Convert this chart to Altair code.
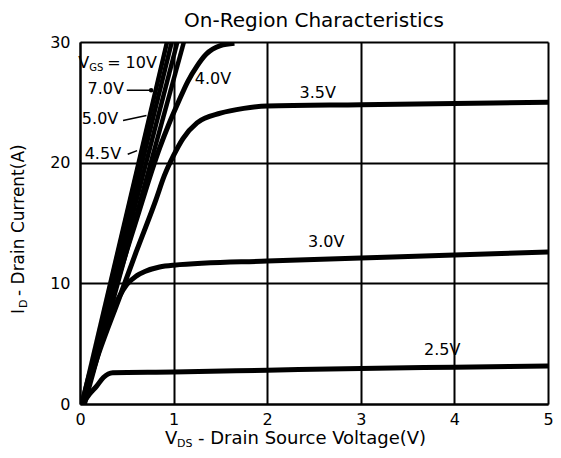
import altair as alt
import pandas as pd

FONT = "DejaVu Sans"

chart_title = "On-Region Characteristics"
x_ticks = [0, 1, 2, 3, 4, 5]
y_ticks = [0, 10, 20, 30]

# steep (linear region) curves
v10_x = [0.02, 0.93]
v10_y = [0, 30]
v70_x = [0.03, 0.98]
v70_y = [0, 30]
v50_x = [0.04, 1.04]
v50_y = [0, 30]
v45_x = [0.05, 1.11]
v45_y = [0, 30]

# saturating curves
v40_x = [0.04, 0.3, 0.6, 0.85, 0.95, 1.05, 1.15, 1.25, 1.35, 1.5, 1.65]
v40_y = [0, 7.6, 15.2, 21.2, 23.2, 25.0, 26.7, 28.0, 29.0, 29.7, 29.9]
v35_x = [0.03, 0.2, 0.42, 0.6, 0.81, 0.9, 1.0, 1.1, 1.25, 1.5, 1.75, 2.0, 3.0, 4.0, 5.0]
v35_y = [0, 4.2, 8.8, 12.6, 16.9, 18.9, 20.6, 22.0, 23.3, 24.1, 24.5, 24.7, 24.8, 24.9, 25.0]
v30_x = [0.02, 0.1, 0.25, 0.42, 0.5, 0.6, 0.7, 0.85, 1.0, 2.0, 3.0, 4.0, 5.0]
v30_y = [0, 2.4, 5.6, 8.9, 9.9, 10.6, 11.0, 11.35, 11.5, 11.85, 12.1, 12.35, 12.6]
v25_x = [0.03, 0.1, 0.18, 0.25, 0.35, 1.0, 2.0, 3.0, 4.0, 5.0]
v25_y = [0, 0.8, 1.5, 2.2, 2.6, 2.65, 2.8, 2.95, 3.05, 3.15]

# curve labels
right_labels = ["4.0V", "3.5V", "3.0V", "2.5V"]
right_label_x = [1.42, 2.54, 2.63, 3.87]
right_label_y = [26.9, 25.8, 13.4, 4.46]
left_labels = ["7.0V", "5.0V", "4.5V"]
left_label_x = [0.08, 0.02, 0.05]
left_label_y = [26.1, 23.6, 20.7]
leader_x1 = [0.5, 0.46, 0.51]
leader_y1 = [26.0, 23.5, 20.7]
leader_x2 = [0.76, 0.71, 0.61]
leader_y2 = [26.0, 23.9, 21.0]


def frame(name, xs, ys):
    return pd.DataFrame({"series": name, "v": xs, "i": ys, "k": range(len(xs))})


steep = pd.concat([
    frame("10V", v10_x, v10_y), frame("7.0V", v70_x, v70_y),
    frame("5.0V", v50_x, v50_y), frame("4.5V", v45_x, v45_y),
])
sat = pd.concat([
    frame("4.0V", v40_x, v40_y), frame("3.5V", v35_x, v35_y),
    frame("3.0V", v30_x, v30_y), frame("2.5V", v25_x, v25_y),
])

xs = alt.Scale(domain=[0, 5], nice=False)
ys = alt.Scale(domain=[0, 30], nice=False)

x_axis = alt.Axis(values=x_ticks, grid=True, gridColor="black", gridWidth=2, gridOpacity=1,
                  domainColor="black", domainWidth=2, ticks=False, labelFont=FONT,
                  labelFontSize=16, labelColor="black", labelPadding=7, labelFlush=False,
                  format="d")
y_axis = alt.Axis(values=y_ticks, grid=True, gridColor="black", gridWidth=2, gridOpacity=1,
                  domainColor="black", domainWidth=2, ticks=False, labelFont=FONT,
                  labelFontSize=16, labelColor="black", labelPadding=10, format="d")

base_x = alt.X("v:Q", scale=xs, axis=x_axis, title=None)
base_y = alt.Y("i:Q", scale=ys, axis=y_axis, title=None)

steep_lines = alt.Chart(steep).mark_line(color="black", strokeWidth=4.5, clip=True).encode(
    x=base_x, y=base_y, detail="series:N", order="k:Q")
sat_lines = alt.Chart(sat).mark_line(color="black", strokeWidth=5, clip=True,
                                     interpolate="monotone").encode(
    x=alt.X("v:Q", scale=xs), y=alt.Y("i:Q", scale=ys), detail="series:N", order="k:Q")

rl = pd.DataFrame({"t": right_labels, "v": right_label_x, "i": right_label_y})
right_text = alt.Chart(rl).mark_text(font=FONT, fontSize=16, color="black", align="center",
                                     baseline="middle").encode(
    x=alt.X("v:Q", scale=xs), y=alt.Y("i:Q", scale=ys), text="t:N")

ll = pd.DataFrame({"t": left_labels, "v": left_label_x, "i": left_label_y})
left_text = alt.Chart(ll).mark_text(font=FONT, fontSize=16, color="black", align="left",
                                    baseline="middle").encode(
    x=alt.X("v:Q", scale=xs), y=alt.Y("i:Q", scale=ys), text="t:N")

ld = pd.DataFrame({"v": leader_x1, "i": leader_y1, "v2": leader_x2, "i2": leader_y2})
leaders = alt.Chart(ld).mark_rule(color="black", strokeWidth=1.5).encode(
    x=alt.X("v:Q", scale=xs), y=alt.Y("i:Q", scale=ys), x2="v2:Q", y2="i2:Q")
dot = alt.Chart(ld.iloc[[0]]).mark_point(filled=True, color="black", size=20, opacity=1).encode(
    x=alt.X("v2:Q", scale=xs), y=alt.Y("i2:Q", scale=ys))

# V_GS = 10V label (with subscript)
vgs_df = pd.DataFrame({"v": [-0.02], "i": [27.85]})
vgs_main = alt.Chart(vgs_df).mark_text(font=FONT, fontSize=16, color="black", align="left",
                                       baseline="alphabetic", text="V").encode(
    x=alt.X("v:Q", scale=xs), y=alt.Y("i:Q", scale=ys))
vgs_sub = alt.Chart(vgs_df).mark_text(font=FONT, fontSize=10, color="black", align="left",
                                      baseline="alphabetic", text="GS", dx=11, dy=3).encode(
    x=alt.X("v:Q", scale=xs), y=alt.Y("i:Q", scale=ys))
vgs_rest = alt.Chart(vgs_df).mark_text(font=FONT, fontSize=16, color="black", align="left",
                                       baseline="alphabetic", text="= 10V", dx=29).encode(
    x=alt.X("v:Q", scale=xs), y=alt.Y("i:Q", scale=ys))

one = pd.DataFrame({"a": [0]})


def ptext(txt, x, y, size, **kw):
    return alt.Chart(one).mark_text(font=FONT, fontSize=size, color="black", text=txt, **kw).encode(
        x=alt.value(x), y=alt.value(y))


W, H = 468, 362

title_mark = ptext(chart_title, W / 2, -15, 20, align="center", baseline="alphabetic")

# x-axis title: V_DS - Drain Source Voltage(V)
xt_x, xt_y = 85, H + 40
xt1 = ptext("V", xt_x, xt_y, 18, align="left", baseline="alphabetic")
xt2 = ptext("DS", xt_x, xt_y, 11, align="left", baseline="alphabetic", dx=12, dy=3)
xt3 = ptext("- Drain Source Voltage(V)", xt_x, xt_y, 18, align="left", baseline="alphabetic", dx=33)

# y-axis title: I_D - Drain Current(A)
yt_x, yt_y = -56, 272
yt1 = ptext("I", yt_x, yt_y, 17, align="left", baseline="alphabetic", angle=270)
yt2 = ptext("D", yt_x, yt_y, 11, align="left", baseline="alphabetic", angle=270, dx=6, dy=3)
yt3 = ptext("- Drain Current(A)", yt_x, yt_y, 17, align="left", baseline="alphabetic",
            angle=270, dx=18)

chart = alt.layer(
    steep_lines, sat_lines, leaders, dot, right_text, left_text,
    vgs_main, vgs_sub, vgs_rest, title_mark, xt1, xt2, xt3, yt1, yt2, yt3,
).properties(
    width=W, height=H,
    autosize=alt.AutoSizeParams(type="none"),
    padding={"left": 72, "top": 34, "right": 5, "bottom": 45},
).configure_view(stroke="black", strokeWidth=2).configure(background="white")

chart.save("out.html", embed_options={"renderer": "svg", "actions": False})
